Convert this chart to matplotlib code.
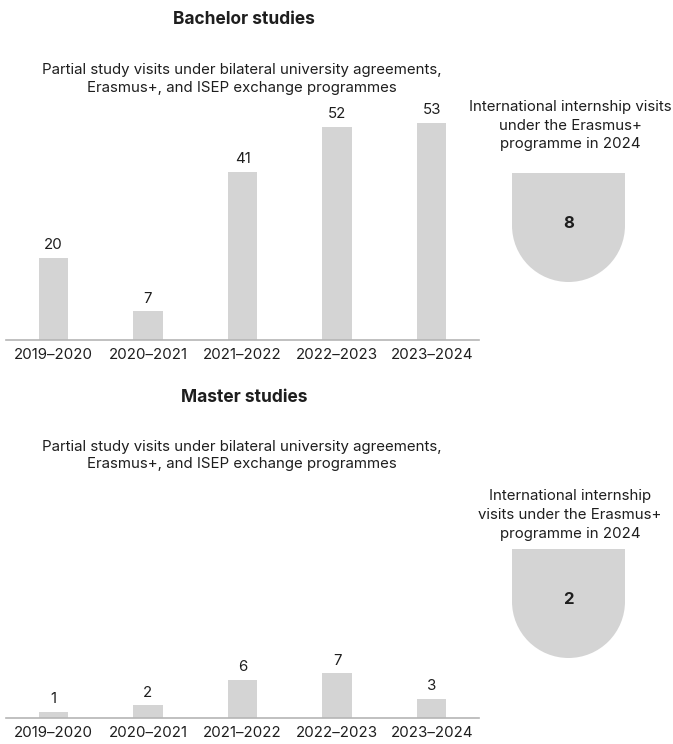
import matplotlib.pyplot as plt
from matplotlib.patches import Rectangle, Wedge

plt.rcParams['font.family'] = ['Inter', 'DejaVu Sans']

years = ['2019–2020', '2020–2021', '2021–2022', '2022–2023', '2023–2024']
bachelor = [20, 7, 41, 52, 53]
master = [1, 2, 6, 7, 3]
bachelor_intern = 8
master_intern = 2

subtitle = 'Partial study visits under bilateral university agreements,\nErasmus+, and ISEP exchange programmes'
bar_col = '#d4d4d4'
txt_col = '#1e1e1e'
fs = 10.8

W, H = 673, 744
fig = plt.figure(figsize=(W / 100, H / 100), dpi=100)


def px_axes(x0, y0, w, h):
    # pixel box from top-left -> figure axes
    return fig.add_axes([x0 / W, 1 - (y0 + h) / H, w / W, h / H])


def bars(y_base, height, top, vals):
    ax = px_axes(6, y_base - height, 473, height)
    b = ax.bar(range(len(vals)), vals, width=0.31, color=bar_col)
    ax.bar_label(b, padding=4, fontsize=fs, color=txt_col)
    ax.set_xlim(-0.5, len(vals) - 0.5)
    ax.set_ylim(0, top)
    ax.set_xticks(range(len(vals)))
    ax.set_xticklabels(years, fontsize=fs, color=txt_col)
    ax.tick_params(axis='x', length=0, pad=6)
    ax.set_yticks([])
    for s in ['top', 'right', 'left']:
        ax.spines[s].set_visible(False)
    ax.spines['bottom'].set_color('#b5b5b5')
    ax.spines['bottom'].set_linewidth(1.2)
    return ax


def badge(y_top, value):
    # flat top, round bottom shape
    ax = px_axes(512, y_top, 113, 109)
    ax.set_xlim(0, 113)
    ax.set_ylim(109, 0)
    ax.axis('off')
    r = 56.5
    ax.add_patch(Rectangle((0, 0), 113, 109 - r, color=bar_col, lw=0))
    ax.add_patch(Wedge((r, 109 - r), r, 0, 180, color=bar_col, lw=0))
    ax.text(r, 51, str(value), ha='center', va='center',
            fontsize=12, fontweight='bold', color=txt_col)


# bachelor
fig.text(244 / W, 1 - 20 / H, 'Bachelor studies', ha='center', va='center',
         fontsize=12.5, fontweight='bold', color=txt_col)
fig.text(242 / W, 1 - 79 / H, subtitle, ha='center', va='center',
         fontsize=fs, color=txt_col, linespacing=1.32)
bars(340, 240, 240 / 4.1, bachelor)
fig.text(570 / W, 1 - 125.5 / H,
         'International internship visits\nunder the Erasmus+\nprogramme in 2024',
         ha='center', va='center', fontsize=fs, color=txt_col, linespacing=1.42)
badge(173, bachelor_intern)

# master
fig.text(244 / W, 1 - 398 / H, 'Master studies', ha='center', va='center',
         fontsize=12.5, fontweight='bold', color=txt_col)
fig.text(242 / W, 1 - 455.5 / H, subtitle, ha='center', va='center',
         fontsize=fs, color=txt_col, linespacing=1.32)
bars(718, 200, 200 / 6.4, master)
fig.text(570 / W, 1 - 515 / H,
         'International internship\nvisits under the Erasmus+\nprogramme in 2024',
         ha='center', va='center', fontsize=fs, color=txt_col, linespacing=1.42)
badge(549, master_intern)

fig.savefig('out.png', dpi=100)
